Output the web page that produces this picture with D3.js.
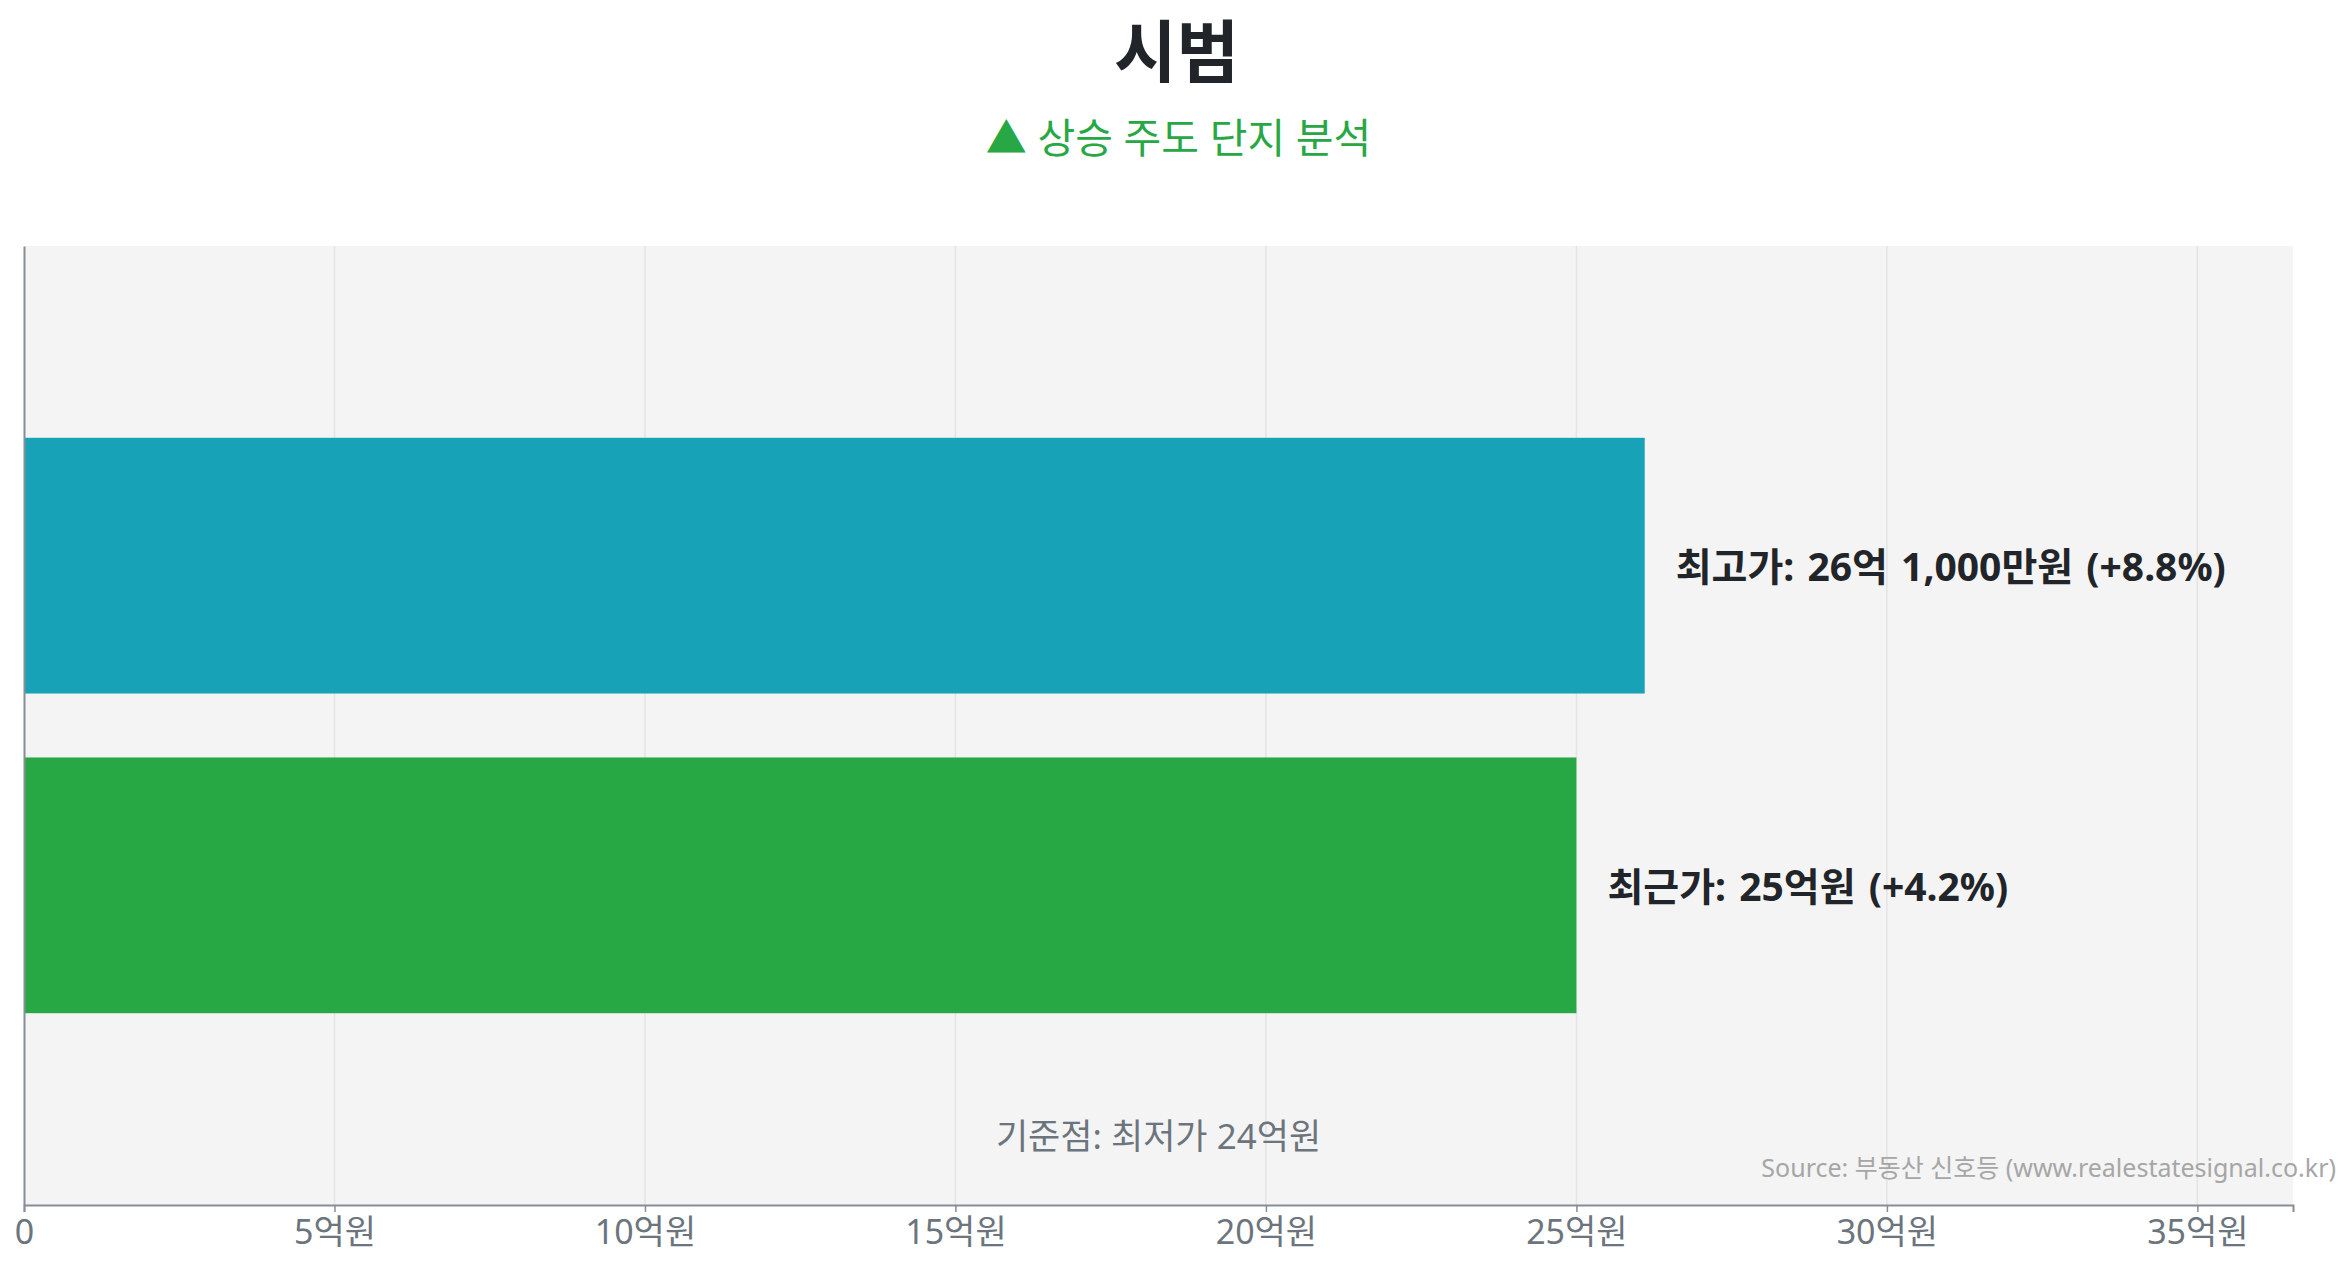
<!DOCTYPE html>
<html>
<head>
<meta charset="utf-8">
<script src="https://cdn.jsdelivr.net/npm/d3@7"></script>
<style>
  body { margin: 0; background: #fff; }
  text { font-family: "Noto Sans", "Noto Sans CJK KR", sans-serif; }
</style>
</head>
<body>
<script>
// data
let categories = ['최고가', '최근가'];
let values = [26.1, 25.0];           // 억원
let labels = ['최고가: 26억 1,000만원 (+8.8%)', '최근가: 25억원 (+4.2%)'];
let barColors = ['#17a2b8', '#28a745'];
let baseValue = 24;                   // 기준점: 최저가
let xTicks = [0, 5, 10, 15, 20, 25, 30, 35];

let W = 2345, H = 1268;
let margin = {top: 246, right: 52, bottom: 63, left: 24};
let innerW = W - margin.left - margin.right;
let innerH = H - margin.top - margin.bottom;

let svg = d3.select('body')
  .append('svg')
  .attr('width', W)
  .attr('height', H);

// title + subtitle
svg.append('text')
   .attr('x', W / 2 + 4).attr('y', 77)
   .attr('text-anchor', 'middle')
   .attr('font-size', 68).attr('font-weight', 700)
   .attr('font-family', '"Noto Sans CJK KR", sans-serif')
   .attr('fill', '#212529')
   .text('시범');

svg.append('text')
   .attr('x', W / 2 + 6).attr('y', 153)
   .attr('text-anchor', 'middle')
   .attr('font-size', 41)
   .attr('fill', '#28a745')
   .text('▲ 상승 주도 단지 분석');

let g = svg.append('g')
  .attr('transform', 'translate(' + margin.left + ',' + margin.top + ')');

let x = d3.scaleLinear()
  .domain([0, d3.max(values) * 1.4])
  .range([0, innerW]);

let y = d3.scaleBand()
  .domain(categories)
  .range([0, innerH])
  .paddingInner(0.2)
  .paddingOuter(0.6);

// plot background
g.append('rect')
 .attr('width', innerW).attr('height', innerH)
 .attr('fill', '#f4f4f4');

// gridlines
g.selectAll('line.grid')
 .data(xTicks.slice(1))
 .enter().append('line')
 .attr('class', 'grid')
 .attr('x1', d => x(d)).attr('x2', d => x(d))
 .attr('y1', 0).attr('y2', innerH)
 .attr('stroke', '#e4e4e4').attr('stroke-width', 1.5);

// bars
g.selectAll('rect.bar')
 .data(values)
 .enter().append('rect')
 .attr('class', 'bar')
 .attr('x', 0)
 .attr('y', (d, i) => y(categories[i]))
 .attr('width', d => x(d))
 .attr('height', y.bandwidth())
 .attr('fill', (d, i) => barColors[i]);

// value labels
g.selectAll('text.lbl')
 .data(values)
 .enter().append('text')
 .attr('class', 'lbl')
 .attr('x', d => x(d) + 31)
 .attr('y', (d, i) => y(categories[i]) + y.bandwidth() / 2)
 .attr('dominant-baseline', 'central')
 .attr('font-size', 39).attr('font-weight', 700)
 .attr('word-spacing', 3)
 .attr('fill', '#212529')
 .text((d, i) => labels[i]);

// baseline note
g.append('text')
 .attr('x', innerW / 2).attr('y', innerH - 56)
 .attr('text-anchor', 'middle')
 .attr('font-size', 35)
 .attr('fill', '#6c757d')
 .text('기준점: 최저가 ' + baseValue + '억원');

// x axis
let xAxis = d3.axisBottom(x)
  .tickValues(xTicks)
  .tickSize(7)
  .tickPadding(8)
  .tickFormat(d => d === 0 ? '0' : d + '억원');

let ax = g.append('g')
  .attr('transform', 'translate(0,' + innerH + ')')
  .call(xAxis);
ax.select('.domain').attr('stroke', '#868e96').attr('stroke-width', 2);
ax.selectAll('.tick line').attr('stroke', '#868e96').attr('stroke-width', 1.5);
ax.selectAll('.tick text')
  .attr('font-size', 34)
  .attr('font-family', '"Noto Sans", "Noto Sans CJK KR", sans-serif')
  .attr('fill', '#6c757d');

// y axis line (no labels)
let yAxis = d3.axisLeft(y).tickSize(0).tickFormat('');
let ay = g.append('g').call(yAxis);
ay.select('.domain').attr('stroke', '#868e96').attr('stroke-width', 2);

// source
svg.append('text')
   .attr('x', W - 9).attr('y', 1177)
   .attr('text-anchor', 'end')
   .attr('font-size', 25)
   .attr('fill', '#a6a6a6')
   .text('Source: 부동산 신호등 (www.realestatesignal.co.kr)');
</script>
</body>
</html>
